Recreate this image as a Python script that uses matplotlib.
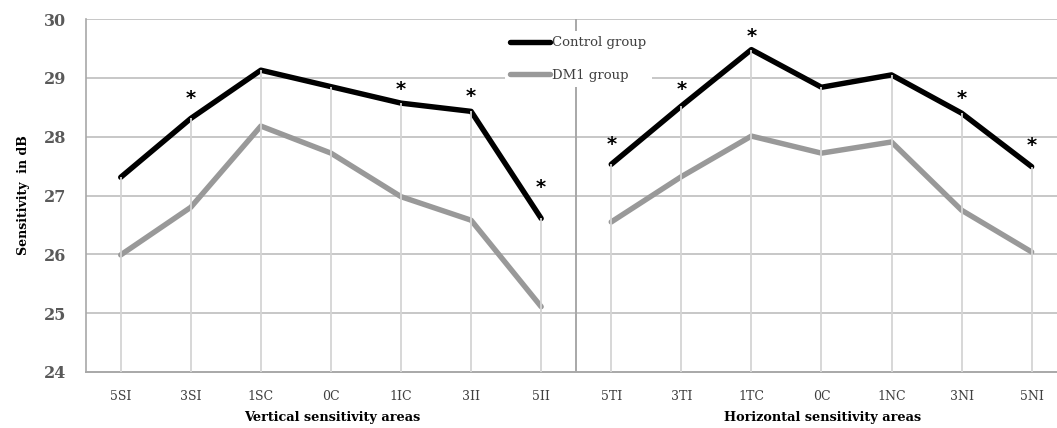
import numpy as np
import matplotlib.pyplot as plt

# vertical and horizontal sensitivity areas, one continuous category axis
vert_areas = ['5SI', '3SI', '1SC', '0C', '1IC', '3II', '5II']
horiz_areas = ['5TI', '3TI', '1TC', '0C', '1NC', '3NI', '5NI']

control_vert = [27.31, 28.31, 29.13, 28.85, 28.57, 28.43, 26.61]
dm1_vert = [25.99, 26.80, 28.18, 27.72, 26.98, 26.58, 25.11]
control_horiz = [27.53, 28.52, 29.48, 28.84, 29.05, 28.40, 27.49]
dm1_horiz = [26.55, 27.32, 28.01, 27.72, 27.91, 26.75, 26.04]

# significant differences
stars = ['3SI', '1IC', '3II', '5II', '5TI', '3TI', '1TC', '3NI', '5NI']
star_gap = [20, 14, 15, 31, 20, 17, 13, 15, 21]  # px above the control point

labels = vert_areas + horiz_areas
control = control_vert + control_horiz
nv = len(vert_areas)
xv = np.arange(nv)
xh = np.arange(nv, len(labels))

plt.rcParams['font.family'] = 'DejaVu Serif'

W, H = 1057, 428
fig = plt.figure(figsize=(W / 100, H / 100), dpi=100)
left, right, top, bottom = 85.7, 1066.7, 19, 372
ax = fig.add_axes([left / W, 1 - bottom / H, (right - left) / W, (bottom - top) / H])

ax.set_ylim(24, 30)
ax.set_xlim(-0.5, len(labels) - 0.5)

# horizontal gridlines
for v in range(25, 31):
    ax.axhline(v, color='#bdbdbd', lw=1.2, zorder=1)

# drop lines from control points down to axis
ax.vlines(np.arange(len(labels)), 24, control, color='#d4d4d4', lw=1.3, zorder=4)

# separator between the two groups of areas
ax.axvline(nv - 0.5, color='#a8a8a8', lw=1.4, zorder=2)

ax.plot(xv, control_vert, color='black', lw=3.9, solid_joinstyle='round',
        solid_capstyle='round', zorder=3, label='Control group')
ax.plot(xh, control_horiz, color='black', lw=3.9, solid_joinstyle='round',
        solid_capstyle='round', zorder=3)
ax.plot(xv, dm1_vert, color='#999999', lw=3.9, solid_joinstyle='round',
        solid_capstyle='round', zorder=3, label='DM1 group')
ax.plot(xh, dm1_horiz, color='#999999', lw=3.9, solid_joinstyle='round',
        solid_capstyle='round', zorder=3)

for s, g in zip(stars, star_gap):
    i = labels.index(s)
    ax.annotate('*', (i, control[i]), xytext=(0, g * 0.72), textcoords='offset points',
                ha='center', va='center', fontsize=14, fontweight='bold',
                family='DejaVu Sans')

for sp in ['top', 'right']:
    ax.spines[sp].set_visible(False)
ax.spines['left'].set_color('#a8a8a8')
ax.spines['bottom'].set_color('#a8a8a8')
ax.spines['left'].set_linewidth(1.2)
ax.spines['bottom'].set_linewidth(1.4)

ax.set_xticks(np.arange(len(labels)))
ax.set_xticklabels(labels, fontsize=9, color='#404040')
ax.set_yticks(range(24, 31))
ax.set_yticklabels([str(v) for v in range(24, 31)], fontsize=11.5,
                   fontweight='bold', color='#595959')
ax.tick_params(axis='x', length=0, pad=13)
ax.tick_params(axis='y', length=0, pad=14)

ax.set_ylabel('Sensitivity  in dB', fontsize=9, fontweight='bold', labelpad=10)

fig.text(((left + 579) / 2) / W, 1 - 418 / H, 'Vertical sensitivity areas',
         ha='center', va='center', fontsize=9.3, fontweight='bold')
fig.text(((579 + right) / 2) / W, 1 - 418 / H, 'Horizontal sensitivity areas',
         ha='center', va='center', fontsize=9.3, fontweight='bold')

leg = ax.legend(loc='upper left', bbox_to_anchor=(505 / W, 1 - 31 / H),
                bbox_transform=fig.transFigure, frameon=True, fontsize=9.5,
                handlelength=3.0, handletextpad=0.2, labelspacing=1.5,
                borderpad=0.4, borderaxespad=0)
leg.get_frame().set_facecolor('white')
leg.get_frame().set_edgecolor('none')
leg.get_frame().set_alpha(1)
leg.set_zorder(10)
for t in leg.get_texts():
    t.set_color('#404040')

fig.savefig('out.png', dpi=100)
